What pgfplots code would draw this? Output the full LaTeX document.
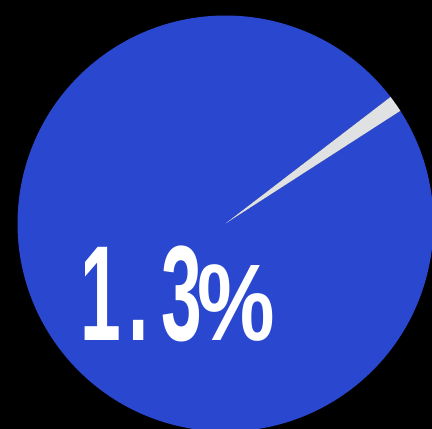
\documentclass[border=0pt]{standalone}
\usepackage{pgfplots}
\pgfplotsset{compat=1.18}
\usepackage{fontspec}
\newfontfamily\numfont[FakeStretch=0.54]{Liberation Sans}
\newfontfamily\pctfont[FakeStretch=0.8]{Liberation Sans}
\definecolor{pieblue}{HTML}{2A47CF}
\definecolor{piegrey}{HTML}{E0E1E3}
\begin{document}
\begin{tikzpicture}
\fill[black] (0,0) rectangle (432pt,429pt);
\begin{scope}
\clip (0,0) rectangle (432pt,429pt);
\begin{axis}[at={(0,0)}, anchor=south west, scale only axis,
  width=432pt, height=429pt, xmin=0, xmax=432, ymin=0, ymax=429,
  hide axis, clip=false]
% pie values (percent)
\def\valOther{98.7}
\def\valShare{1.3}
\def\pieStart{32.8}
\pgfmathsetmacro\shareEnd{\pieStart+\valShare*3.6}
\pgfmathsetmacro\otherEnd{\shareEnd+\valOther*3.6}
\fill[pieblue] (axis cs:225.5,205.5) -- ++(\shareEnd:208pt)
  arc[start angle=\shareEnd, end angle=\otherEnd, radius=208pt] -- cycle;
\fill[piegrey] (axis cs:225.5,205.5) -- ++(\pieStart:208pt)
  arc[start angle=\pieStart, end angle=\shareEnd, radius=208pt] -- cycle;
\node[anchor=base west, inner sep=0pt, text=white] at (axis cs:80,88)
  {\fontsize{135.5}{140}\selectfont\numfont\bfseries 1\kern8pt.\kern12pt3\kern-4pt\pctfont\bfseries\fontsize{109}{110}\selectfont\%};
\end{axis}
\end{scope}
\pgfresetboundingbox
\path (0,0) rectangle (432pt,429pt);
\end{tikzpicture}
\end{document}
